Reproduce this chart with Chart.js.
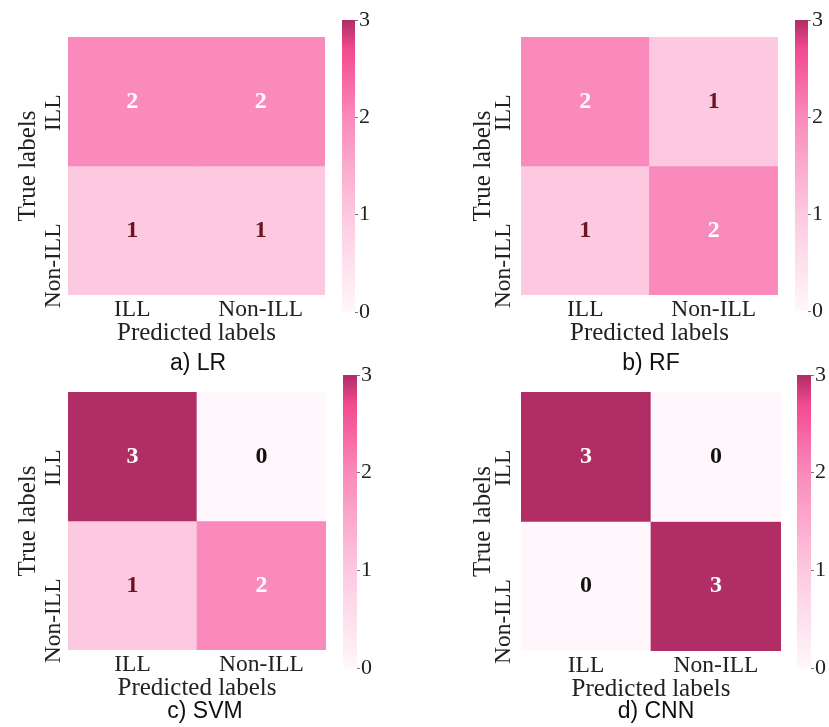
<!DOCTYPE html>
<html>
<head>
<meta charset="utf-8">
<script src="https://cdn.jsdelivr.net/npm/chart.js@4.4.1/dist/chart.umd.min.js"></script>
<style>
  html, body { margin: 0; padding: 0; background: #ffffff; }
  #stage { position: relative; width: 829px; height: 727px; background: #ffffff; overflow: hidden; }
  #stage canvas { position: absolute; left: 0; top: 0; }
</style>
</head>
<body>
<div id="stage"></div>
<script>
// ---- data ----
const predictedLabels = ['ILL', 'Non-ILL'];
const trueLabels = ['ILL', 'Non-ILL'];
const lrMatrix  = [[2, 2], [1, 1]];
const rfMatrix  = [[2, 1], [1, 2]];
const svmMatrix = [[3, 0], [1, 2]];
const cnnMatrix = [[3, 0], [0, 3]];
const colorbarTicks = [0, 1, 2, 3];
const panelTitles = ['a) LR', 'b) RF', 'c) SVM', 'd) CNN'];

// ---- styling ----
const SERIF = '"Liberation Serif", "Times New Roman", serif';
const SANS = '"Liberation Sans", Arial, sans-serif';
const TEXT = '#222222';
const W = 829, H = 727;

// pink colour map: [fraction of range, colour]
const cmapStops = [
  [0.00, [255, 247, 251]],
  [0.333, [253, 201, 224]],
  [0.667, [250, 138, 187]],
  [0.90, [243, 74, 144]],
  [1.00, [176, 45, 102]]
];
function cmap(t) {
  t = Math.max(0, Math.min(1, t));
  for (let k = 1; k < cmapStops.length; k++) {
    const [t1, c1] = cmapStops[k];
    const [t0, c0] = cmapStops[k - 1];
    if (t <= t1) {
      const f = (t - t0) / (t1 - t0);
      const c = c0.map((v, i) => Math.round(v + (c1[i] - v) * f));
      return `rgb(${c[0]},${c[1]},${c[2]})`;
    }
  }
  const c = cmapStops[cmapStops.length - 1][1];
  return `rgb(${c[0]},${c[1]},${c[2]})`;
}
const vMin = colorbarTicks[0];
const vMax = colorbarTicks[colorbarTicks.length - 1];
const cellColor = v => cmap((v - vMin) / (vMax - vMin));
const valueTextColor = v => (v >= 2 ? '#ffffff' : v === 1 ? '#6b1421' : '#111111');

// panel frames on the page
const panels = [
  { m: lrMatrix,  title: panelTitles[0], heat: { l: 68,  t: 37,  r: 325, b: 295 }, bar: { l: 342, t: 20,  r: 355, b: 312 }, yOff: 8,  tOff: 33, cap: { x: 198, y: 370 } },
  { m: rfMatrix,  title: panelTitles[1], heat: { l: 521, t: 37,  r: 778, b: 295 }, bar: { l: 795, t: 20,  r: 808, b: 311 }, yOff: 11, tOff: 31, cap: { x: 651, y: 370 } },
  { m: svmMatrix, title: panelTitles[2], heat: { l: 68,  t: 392, r: 326, b: 650 }, bar: { l: 343, t: 375, r: 357, b: 668 }, yOff: 8,  tOff: 33, cap: { x: 205, y: 718 } },
  { m: cnnMatrix, title: panelTitles[3], heat: { l: 521, t: 392, r: 781, b: 651 }, bar: { l: 797, t: 375, r: 811, b: 668 }, yOff: 11, tOff: 31, cap: { x: 656, y: 718 } }
];

const stage = document.getElementById('stage');
function newCanvas() {
  const c = document.createElement('canvas');
  c.width = W; c.height = H;
  c.style.width = W + 'px'; c.style.height = H + 'px';
  stage.appendChild(c);
  return c.getContext('2d');
}

// annotations for a heatmap: cell values, tick labels, axis titles, caption
const heatText = {
  id: 'heatText',
  afterDraw(chart, args, opts) {
    const { ctx, chartArea: a, scales } = chart;
    const xs = scales.x, ys = scales.y;
    const m = opts.matrix;
    ctx.save();
    // cell values
    ctx.font = 'bold 24px ' + SERIF;
    ctx.textAlign = 'center';
    ctx.textBaseline = 'alphabetic';
    chart.data.datasets.forEach((ds, i) => {
      chart.getDatasetMeta(i).data.forEach((el, j) => {
        const p = el.getCenterPoint();
        const v = m[i][j];
        ctx.fillStyle = valueTextColor(v);
        ctx.fillText(String(v), p.x, p.y + 6);
      });
    });
    // x tick labels
    ctx.fillStyle = TEXT;
    ctx.font = '23.5px ' + SERIF;
    predictedLabels.forEach((lab, j) => {
      ctx.fillText(lab, xs.getPixelForValue(j), a.bottom + 21);
    });
    // x title
    ctx.font = '25px ' + SERIF;
    ctx.fillText('Predicted labels', (a.left + a.right) / 2, a.bottom + 45);
    // y tick labels (rotated)
    ctx.font = '23.5px ' + SERIF;
    trueLabels.forEach((lab, i) => {
      const cy = ys.getPixelForValue(i + 0.5);
      ctx.save();
      ctx.translate(a.left - opts.yOff, cy - 7);
      ctx.rotate(-Math.PI / 2);
      ctx.textAlign = 'right';
      ctx.fillText(lab, 0, 0);
      ctx.restore();
    });
    // y title
    ctx.save();
    ctx.font = '25px ' + SERIF;
    ctx.translate(a.left - opts.tOff, (a.top + a.bottom) / 2);
    ctx.rotate(-Math.PI / 2);
    ctx.textAlign = 'center';
    ctx.fillText('True labels', 0, 0);
    ctx.restore();
    // caption
    ctx.font = '23px ' + SANS;
    ctx.fillStyle = '#111111';
    ctx.textAlign = 'center';
    ctx.fillText(opts.caption, opts.cap.x, opts.cap.y);
    ctx.restore();
  }
};

panels.forEach(p => {
  // heatmap: one floating-bar dataset per true-label row
  const datasets = trueLabels.map((lab, i) => ({
    label: lab,
    data: predictedLabels.map(() => [i, i + 1]),
    backgroundColor: p.m[i].map(cellColor),
    borderWidth: 0,
    grouped: false,
    barPercentage: 1,
    categoryPercentage: 1
  }));
  new Chart(newCanvas(), {
    type: 'bar',
    data: { labels: predictedLabels, datasets },
    options: {
      responsive: false,
      animation: false,
      events: [],
      layout: { padding: { left: p.heat.l, top: p.heat.t, right: W - p.heat.r, bottom: H - p.heat.b } },
      scales: {
        x: { type: 'category', display: false },
        y: { type: 'linear', min: 0, max: trueLabels.length, reverse: true, display: false }
      },
      plugins: {
        legend: { display: false },
        tooltip: { enabled: false },
        heatText: { matrix: p.m, yOff: p.yOff, tOff: p.tOff, caption: p.title, cap: p.cap }
      }
    },
    plugins: [heatText]
  });

  // colour bar: one bar spanning the value range, filled with the colour map
  const axisW = 30;
  new Chart(newCanvas(), {
    type: 'bar',
    data: {
      labels: [''],
      datasets: [{
        data: [[vMin, vMax]],
        backgroundColor(c) {
          const ch = c.chart;
          const ys = ch.scales.y;
          if (!ch.chartArea || !ys) return cellColor(vMax);
          const g = ch.ctx.createLinearGradient(0, ys.getPixelForValue(vMin), 0, ys.getPixelForValue(vMax));
          cmapStops.forEach(([t, col]) => g.addColorStop(t, `rgb(${col[0]},${col[1]},${col[2]})`));
          return g;
        },
        borderWidth: 0,
        barPercentage: 1,
        categoryPercentage: 1
      }]
    },
    options: {
      responsive: false,
      animation: false,
      events: [],
      layout: { padding: { left: p.bar.l, top: p.bar.t, right: W - p.bar.r - axisW, bottom: H - p.bar.b } },
      scales: {
        x: { display: false },
        y: {
          position: 'right',
          min: vMin, max: vMax,
          afterBuildTicks(s) { s.ticks = colorbarTicks.map(v => ({ value: v })); },
          afterFit(s) { s.width = axisW; },
          ticks: { color: TEXT, font: { family: SERIF, size: 22 }, padding: 1 },
          grid: { drawOnChartArea: false, drawTicks: true, tickLength: 3, color: '#777777', lineWidth: 1 },
          border: { display: false }
        }
      },
      plugins: { legend: { display: false }, tooltip: { enabled: false } }
    }
  });
});
</script>
</body>
</html>
